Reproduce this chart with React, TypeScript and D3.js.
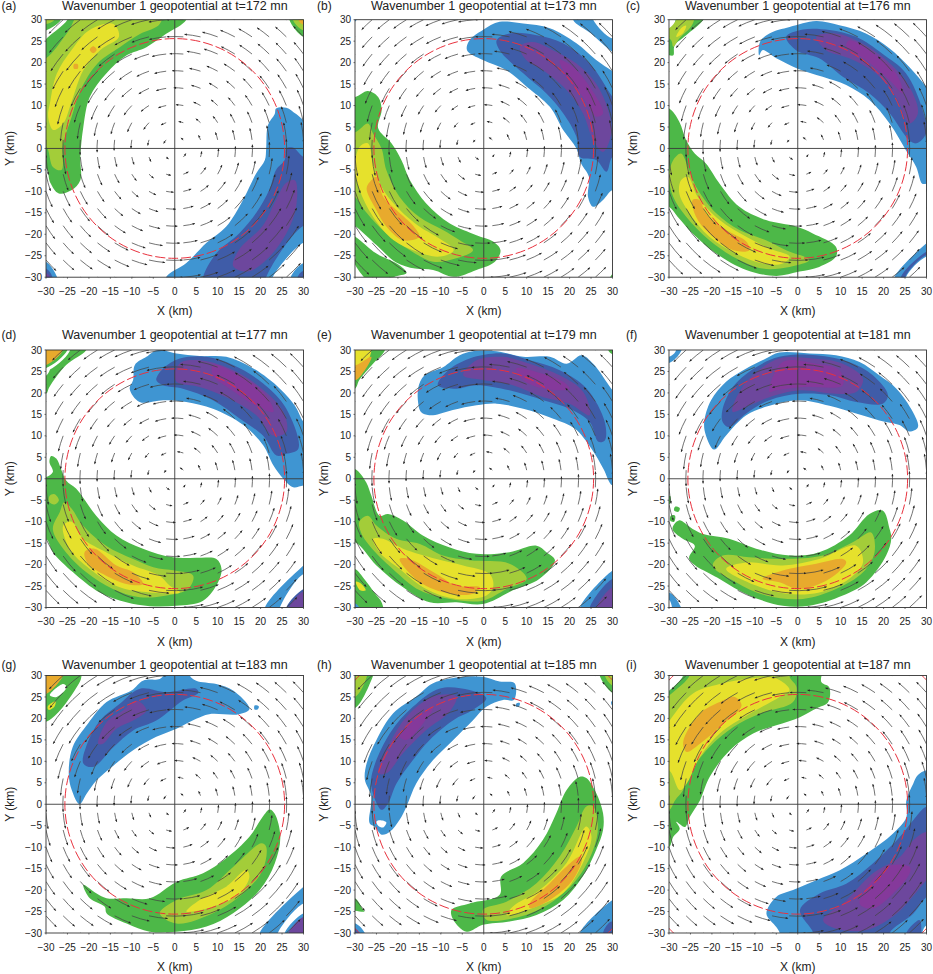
import * as d3 from "d3";

type Pt = [number, number];
type Contour = [number, Pt[]];

// geopotential shading levels: 0 is a gap, 1-4 low side, 5-8 high side
const LEVEL_COLORS = ["#ffffff", "#3f95d2", "#3f5ca8", "#6d479d", "#85399b", "#4db848", "#a3cd39", "#e6e12c", "#e8aa2d"];

const axisTicks = [-30, -25, -20, -15, -10, -5, 0, 5, 10, 15, 20, 25, 30];
const gridKm = [-30, -26, -22, -18, -14, -10, -6, -2, 2, 6, 10, 14, 18, 22, 26, 30];
const rmwRadius = 25.6;
const outerRadius = 41.7;

// arrow length (km on the plot) by radius
const profileRadius = [0, 3, 6, 8.5, 11, 14, 18, 22, 26, 30, 36, 43];
const profileLength = [0.3, 0.9, 1.2, 1.7, 2.0, 2.4, 2.8, 3.4, 4.1, 4.2, 4.1, 3.8];

const panelLetters = ["a", "b", "c", "d", "e", "f", "g", "h", "i"];
const panelTimes = [172, 173, 176, 177, 179, 181, 183, 185, 187];

// arrow length factor by octant, E NE N NW W SW S SE
const sectorAngles = [0, 45, 90, 135, 180, 225, 270, 315, 360];
const sectorFactors = [
  [1, 0.85, 0.95, 1.2, 1, 0.85, 0.95, 1.2],
  [1.1, 1.15, 0.95, 0.85, 1.05, 1.2, 1, 0.85],
  [1, 1.15, 1.05, 0.85, 1, 1.2, 1.05, 0.85],
  [0.95, 1.15, 1.15, 0.85, 0.95, 1.15, 1.15, 0.85],
  [0.9, 1.05, 1.2, 0.9, 0.9, 1.05, 1.2, 0.9],
  [0.9, 1, 1.2, 1, 0.9, 1, 1.2, 1],
  [0.9, 0.9, 1.15, 1.15, 0.9, 0.9, 1.15, 1.15],
  [1, 0.85, 1, 1.2, 1, 0.85, 1, 1.2],
  [1, 0.85, 0.95, 1.2, 1, 0.85, 0.95, 1.2],
];

const contoursA: Contour[] = [
  [5, [[-30,-4.6],[-29,-8],[-27,-10.5],[-24,-9.7],[-22,-7.4],[-22,-2],[-21.3,5],[-19.8,12],[-16,17.4],[-11.2,21.7],[-6.6,23.6],[-2,26.7],[2.7,30],[3,33],[-24,33],[-25,30],[-30,25.5],[-33,22],[-33,-4.6]]],
  [6, [[-30,0.4],[-28.4,-4.3],[-26.4,-5],[-26,1],[-24,7.4],[-22,13.5],[-18,19.8],[-12.8,23.6],[-8,26.7],[-3.5,29],[-3,33],[-21,33],[-25,27],[-30,21],[-33,20],[-33,0]]],
  [7, [[-20,27.5],[-14.3,29],[-13,26],[-17.4,22.9],[-21.3,18.2],[-24,11],[-26,5.8],[-28.3,4.3],[-29.5,7.4],[-29,11],[-27.5,17.4],[-24,23]]],
  [8, [[-23.5,19.6],[-22.6,19.6],[-22.6,18.6],[-23.5,18.6]]],
  [8, [[-19,23.8],[-18.2,23],[-19,22.2],[-19.8,23]]],
  [5, [[-30,27.5],[-26.5,30],[-26,33],[-33,33],[-33,27]]],
  [6, [[-30,29],[-28,30],[-28,33],[-33,33],[-33,29]]],
  [5, [[26.7,30],[30,26],[33,26],[33,33],[26.7,33]]],
  [6, [[27.5,30],[30,27.5],[33,27.5],[33,33],[27.5,33]]],
  [8, [[28.8,30],[30,28.8],[33,29],[33,33],[29,33]]],
  [1, [[23.6,9.3],[26,9.5],[28.3,8],[30,6.6],[33,5],[33,-22],[30,-22],[22.8,-30],[22,-33],[-2,-33],[-2,-30],[2.7,-26.7],[7.4,-22],[12,-18.2],[15.9,-12],[19,-5.8],[21,-2.7],[21.3,0],[21.7,5.4],[23.3,8]]],
  [2, [[26,0],[27.5,0.2],[30,-2],[33,-3],[33,-18],[30,-18],[21.3,-30],[21,-33],[6.6,-33],[6.6,-30],[9.7,-24.4],[15,-19.8],[19,-15],[22,-9.7],[23.6,-5],[25.6,-2.7]]],
  [3, [[28,-7.4],[26,-8],[23.6,-12],[20.5,-18],[15,-23.6],[13.6,-27.4],[17,-28.7],[21.3,-26],[26,-19.8],[28.3,-13.5]]],
  [1, [[-30,-26.4],[-27.4,-30],[-27,-33],[-33,-33],[-33,-26]]],
  [2, [[-30,-28],[-28.5,-30],[-28.5,-33],[-33,-33],[-33,-28]]],
  [3, [[-30,-29],[-29,-30],[-29,-33],[-33,-33],[-33,-29]]],
  [1, [[27,-30],[30,-26.7],[33,-26.7],[33,-33],[27,-33]]],
  [2, [[28.6,-30],[30,-28.5],[33,-28.5],[33,-33],[28.6,-33]]],
];

const contoursB: Contour[] = [
  [5, [[-30,12],[-27,13.4],[-24.6,12],[-23.8,9],[-24.6,4.7],[-21.5,1.2],[-19.2,-2.7],[-17.2,-7.4],[-13.4,-12.8],[-7.9,-17.5],[-1.7,-20.2],[2.2,-21.7],[3.9,-23.7],[2.6,-26.4],[-1.7,-28.3],[-7,-29.9],[-11.8,-28.3],[-16,-28],[-20.5,-26.5],[-25,-22.5],[-30,-18],[-33,-16],[-33,12]]],
  [5, [[-30,-20.5],[-25,-24.5],[-20,-27],[-18,-29],[-21,-30],[-24,-33],[-30,-27],[-30,-25],[-33,-24],[-33,-19]]],
  [6, [[-29.7,3.9],[-27,5.8],[-25.8,3.5],[-23.8,0],[-22.7,-5],[-19.6,-11.3],[-15,-16],[-9.5,-19],[-5.6,-21.4],[-2.5,-23.7],[-6.4,-25.6],[-11.8,-26.4],[-17.2,-23.7],[-22.7,-19.8],[-27.3,-15],[-30,-11.3],[-33,-10],[-33,3]]],
  [7, [[-28.9,0.4],[-27,1.2],[-25.8,-3.5],[-23.8,-9],[-20.3,-13.6],[-15,-18.2],[-11,-20.6],[-7,-23.7],[-10.2,-25.2],[-15.7,-24],[-21,-21.4],[-25.8,-15.9],[-28.9,-9.7],[-30,-4.3]]],
  [8, [[-26.2,-7.4],[-25,-6.6],[-23.4,-11.3],[-20.3,-14.4],[-16.3,-18.2],[-15,-20.6],[-18.8,-21.4],[-22.7,-18.2],[-25,-14.4],[-27.3,-9.3]]],
  [1, [[-3.9,22.9],[-3.3,25.2],[-0.2,27.6],[3.7,29.5],[9.2,29.1],[15.4,28],[21.6,24.5],[26.2,20.6],[30,18],[33,16],[33,-9.7],[30,-9.7],[27.8,-12],[25.5,-13.6],[24.3,-11.3],[24.5,-6.6],[22.7,-3.5],[21.6,0],[18.5,4.3],[15.4,9.7],[10,14.4],[5.3,18.2],[-0.2,20.6]]],
  [1, [[20.8,30],[25,26.8],[30,22.5],[33,21],[33,26],[30,25.6],[25.5,30],[25,33],[20.8,33]]],
  [2, [[3,25.2],[6,26.8],[12.3,26.4],[18.5,24.5],[24.7,19.8],[30,12],[33,8],[33,-2],[30,-2],[28.6,-5.4],[26.2,-2.7],[22.4,-2],[21.6,2.7],[18.5,8.2],[14.6,12.8],[9.2,17.5],[3.7,22.9]]],
  [3, [[8.4,23.7],[11.5,24.8],[16.1,22.9],[21.6,19.8],[26.2,15.1],[29,8.9],[29.7,3.5],[27.8,-0.8],[25.5,1.9],[23.1,8.2],[19.3,13.6],[13.8,18.2],[9.9,20.6]]],
  [4, [[17.7,20.6],[20.8,19],[24.7,14.4],[27.8,8.2],[26.2,7.4],[23.1,12],[19.3,16.7]]],
  [5, [[29.5,-30],[30,-29.3],[33,-29],[33,-33],[29.5,-33]]],
  [1, [[-30,29.6],[-29.6,30],[-29.6,33],[-33,33],[-33,29.6]]],
];

const contoursC: Contour[] = [
  [1, [[-9,21.7],[-8.8,24.8],[-6.6,26.8],[-1.9,28.3],[4.3,29.7],[9.7,28.7],[15.9,26.8],[21.4,23.3],[26,19],[30,14.4],[33,11],[33,-8.2],[30,-8.2],[29,-8.2],[27.6,-4.3],[25.2,-0.4],[21.4,5.8],[16.7,11.3],[11.3,14.8],[5.8,16.7],[0,18.6],[-5,21],[-8.2,22.9]]],
  [2, [[-2.7,26],[1.2,27.7],[7.4,27.6],[13.6,26],[19.8,22],[25.2,17.5],[29.1,8.9],[29.9,3.5],[27.6,1.2],[26,1.9],[21.4,8.2],[16.7,12.8],[10.5,16.7],[5,21],[-0.4,22.9]]],
  [3, [[4.3,26],[8.9,26.8],[14.4,24.8],[20.6,20.6],[26,14.4],[28,8.2],[26,5.8],[22.9,12],[18.2,17.5],[12,21],[6.6,22.9]]],
  [4, [[12,25.2],[16.7,22.9],[22.9,17.5],[24.5,12.8],[21.4,15.9],[15.9,20.6],[11.3,23.7]]],
  [5, [[-30,9.3],[-27.6,6.2],[-26,1.9],[-24,-1.2],[-21.4,-3.5],[-18.2,-8.2],[-13.6,-13.6],[-7.4,-16.7],[-0.4,-18.2],[3.5,-19.8],[8.9,-22.9],[8.9,-25.2],[5,-27.6],[0.4,-28.7],[-5,-29.7],[-12,-28.3],[-19,-24.5],[-24.5,-19.8],[-28,-15.9],[-30,-13.6],[-33,-13],[-33,9]]],
  [6, [[-29,-2.7],[-27.2,-1.2],[-25.6,-4.3],[-23.7,-8.9],[-19,-15.1],[-13.6,-19],[-7.4,-21.4],[-2.7,-23.7],[2.7,-26],[-1.9,-27.6],[-8.2,-28],[-14.4,-25.6],[-20.6,-21.4],[-26,-15.9],[-29,-11.3],[-30,-6.6]]],
  [7, [[-27.2,-7.4],[-25.6,-6.6],[-23.3,-11.3],[-18.2,-16.7],[-12,-20.6],[-6.6,-23.3],[-1.9,-25.2],[-3.5,-26.8],[-8.2,-26.8],[-14.4,-24.5],[-20.6,-20.6],[-25.2,-15.1],[-27.6,-10.5]]],
  [8, [[-24.5,-12],[-22.9,-12],[-21.4,-15.1],[-16.7,-19],[-12,-21.7],[-11.3,-23.7],[-15,-23.7],[-20.6,-19.8],[-23.7,-15.9]]],
  [5, [[-30,21.7],[-29,21.7],[-28.7,24],[-26,26.4],[-22,30],[-21,33],[-27,33],[-30,26],[-33,26],[-33,21.7]]],
  [6, [[-29.5,25.2],[-29,23.7],[-27.6,25.6],[-24.5,29],[-24,33],[-26,33],[-30,28],[-33,28]]],
  [7, [[-28.3,26],[-26.8,26.8],[-26,28.6],[-27.2,28]]],
  [1, [[22.5,-30],[30,-22.1],[33,-20],[33,-25.2],[30,-25.2],[25.2,-30],[25,-33],[22,-33]]],
  [2, [[24,-30],[30,-24],[33,-23],[33,-24.8],[30,-24.8],[25,-30],[25,-33],[24,-33]]],
];

const contoursD: Contour[] = [
  [1, [[-10.5,21],[-9.7,23],[-9.3,26.5],[-6.6,28.4],[-3.9,30],[0.4,29.2],[5.8,28.6],[12,28.4],[18.3,25.7],[24.5,21],[28,17],[30,13.2],[33,10],[33,-1.6],[30,-1.6],[27.6,-2],[25.3,0],[23,3.1],[20.6,7.8],[16,12.5],[8.9,16.3],[2.7,17.9],[-2.7,18.3],[-8.2,17.9]]],
  [2, [[-4.3,23],[-2.7,25.7],[1.2,28],[7.4,28.4],[13.6,26.5],[20.6,22.2],[26,16.3],[28.8,7],[26,5.8],[23.7,5.4],[20.6,10],[15.2,14],[8.9,18.3],[1.9,21],[-2.7,21.8]]],
  [3, [[0,24.9],[1.6,27.2],[5.8,27.6],[12.8,25.7],[19.8,21.4],[25.3,15.6],[26,10.9],[23,10],[19,14.8],[12,19],[5.8,21.4],[0.4,22.6]]],
  [4, [[8.9,26.5],[13.6,24.9],[20.6,20.2],[23,15.6],[19,17],[12.8,21],[8.9,24]]],
  [1, [[21,-30],[30,-20.2],[33,-18],[33,-22.2],[30,-22.2],[24.5,-30],[24,-33],[21,-33]]],
  [2, [[26,-30],[30,-25.7],[33,-25],[33,-33],[26,-33]]],
  [3, [[26.6,-30],[30,-26.2],[33,-26],[33,-33],[26.6,-33]]],
  [5, [[-30,19.8],[-29.2,21.4],[-25.3,26.5],[-20.6,30],[-20,33],[-26,33],[-30,24],[-33,24],[-33,19.8]]],
  [0, [[-30,25],[-24.5,29.7],[-24.5,33],[-30,33],[-33,33],[-33,25]]],
  [5, [[-30,25.8],[-25,30],[-25,33],[-33,33],[-33,25.8]]],
  [8, [[-30,26.5],[-26,30],[-26,33],[-33,33],[-33,26.5]]],
  [5, [[-28.8,5.3],[-27.6,4.7],[-26.5,2.3],[-25.3,-0.4],[-23,-2.3],[-18.3,-8.6],[-13.6,-13.2],[-7.4,-16.3],[-0.4,-18.3],[5.8,-18.4],[9.7,-18.7],[10.9,-21],[10.1,-24.1],[6.6,-28.4],[0.4,-29.6],[-5.8,-29.7],[-11.3,-28.8],[-17.5,-26.5],[-23.7,-21.8],[-28.4,-17.1],[-30,-14],[-33,-14],[-33,0],[-30,0.4],[-28.4,1.6],[-29.2,3.9]]],
  [6, [[-26.8,-7.8],[-25.7,-5.4],[-24,-7],[-21.4,-10.9],[-16,-15.6],[-9.7,-18.7],[-5,-20.6],[0,-21.4],[4.3,-22.6],[3.1,-25.7],[-1.9,-27.2],[-8.2,-27.6],[-14.4,-25.7],[-20.6,-21.8],[-26,-16.3],[-28.4,-11.7]]],
  [6, [[-29.2,-4],[-28,-3.6],[-27,-5],[-28,-6],[-29.2,-5.5]]],
  [7, [[-26,-10.9],[-24,-10],[-21.4,-14],[-16,-17.1],[-9.7,-20.2],[-3.5,-22.6],[-1.2,-24.9],[1.2,-26.5],[-5.8,-26.5],[-12.8,-25.3],[-19.8,-21],[-24.5,-16.3]]],
  [8, [[-21,-17.1],[-18.7,-16.3],[-13.6,-20.2],[-9.7,-21.8],[-7.4,-24.5],[-11.3,-24.5],[-16.7,-22.2],[-20.2,-19.8]]],
];

const contoursE: Contour[] = [
  [1, [[-14.9,16],[-15.3,21],[-13.8,24.1],[-9.5,26],[-5.6,28.8],[-2.5,29.7],[3,29.7],[9.2,28.4],[15.4,28.4],[19.3,26.8],[22.8,28.8],[25.5,26.8],[30,20.6],[33,17],[33,-1.6],[30,-1.6],[27.9,2.3],[25.1,7],[21.2,11.7],[16.2,14],[9.2,16.3],[3,17.5],[-1.7,17.1],[-7.2,16],[-11.8,14.8],[-14.2,15.2]]],
  [2, [[-10.7,21.8],[-8.7,24.9],[-3.3,28],[4.5,29.2],[10.7,27.6],[17.7,25.3],[24,21],[28.2,13.2],[28.2,8.9],[26.7,8.6],[24.7,13.2],[20,16.3],[13.9,18.3],[6,20.6],[-1.7,21.8],[-6.4,21]]],
  [3, [[-4.8,24.1],[-1.7,27.6],[4.5,28.4],[10.7,26.8],[17.7,24.1],[23.2,20.2],[24.7,14.8],[20,17.5],[13.9,19],[6.8,21.8],[-0.2,23]]],
  [4, [[7.6,25.7],[12.3,24.9],[18.5,22.6],[20,21],[13.9,21],[9.2,23]]],
  [5, [[-30,2.3],[-27.4,-0.8],[-26.2,-3.9],[-24.3,-8.6],[-22.3,-8.2],[-18.8,-9.7],[-14.2,-13.2],[-7.9,-16],[-1.7,-17.5],[6,-17.1],[12.3,-15.6],[14.6,-17.1],[16.6,-19],[13,-23.3],[6.8,-26],[-0.2,-29.2],[-6.4,-28.8],[-12.6,-28.8],[-18.8,-25.3],[-25,-20.2],[-30,-14.8],[-33,-15],[-33,2.3]]],
  [6, [[-29,-10],[-27,-8.6],[-25,-10.9],[-20.4,-14],[-14.9,-15.2],[-9.5,-17.9],[-3.3,-19],[6,-19.8],[10,-23.3],[5.3,-25.7],[-0.2,-28.4],[-7.9,-28],[-14.9,-26],[-21.2,-21],[-26.6,-15.6],[-28.6,-12.5]]],
  [7, [[-25.8,-14],[-23.5,-14],[-18.8,-16.3],[-11,-18.7],[-4.8,-20.2],[1.4,-22.2],[2.2,-25.3],[0.6,-27.2],[-6.4,-28],[-13.4,-25.7],[-19.6,-21],[-24.3,-17.1]]],
  [8, [[-19.6,-18.7],[-17.3,-18.7],[-11,-22.2],[-6.4,-24.9],[-0.9,-25.3],[-2.5,-26.8],[-7.9,-26.8],[-14.9,-24.1]]],
  [5, [[-30,21],[-29,23],[-25.8,26.8],[-23,30],[-23,33],[-33,33],[-33,21]]],
  [7, [[-30,24],[-27.8,25.7],[-26.2,29.7],[-26,33],[-33,33],[-33,24]]],
  [8, [[-30,23],[-28,24.9],[-26.2,28.4],[-29.7,26.5],[-33,26]]],
  [5, [[-30,-21],[-27.8,-23.4],[-25.5,-26.5],[-23.7,-29],[-23.5,-33],[-30,-33],[-33,-30],[-33,-21]]],
  [7, [[-29.8,-24],[-28.5,-24.5],[-27.5,-26],[-28.8,-26]]],
  [1, [[-30,-29],[-29,-30],[-29,-33],[-33,-33],[-33,-29]]],
  [5, [[29,30],[30,29],[33,29],[33,33],[29,33]]],
  [1, [[22.4,-30],[30,-21.4],[33,-20],[33,-33],[22.4,-33]]],
  [2, [[24.7,-30],[30,-23.3],[33,-23],[33,-33],[24.7,-33]]],
  [3, [[26.3,-30],[30,-25.3],[33,-25],[33,-33],[26.3,-33]]],
];

const contoursF: Contour[] = [
  [1, [[-19.5,6.8],[-21.4,10.1],[-21.8,13.2],[-20.2,18.3],[-16.7,22.6],[-12,25.7],[-7.4,28],[-4.3,29.4],[2.7,29.2],[8.9,28.8],[14.4,27.2],[19,24.1],[23,21],[26.8,15.6],[28,12],[26,11],[23.7,12.5],[19,13.6],[13.6,15.2],[7.4,17],[0.4,18.3],[-6.6,17],[-12,14.8],[-16.7,10.1]]],
  [2, [[-17.5,13.2],[-17.5,16.3],[-14.8,21.8],[-9.7,26],[-4.3,28.4],[4.3,28.8],[12,27.2],[17.5,24.1],[21,19.5],[19.8,17.5],[13.6,17.9],[7.4,19.5],[0.4,19.8],[-6.6,18.3],[-12,15.2],[-16,12]]],
  [3, [[-15.2,15.6],[-14,19.5],[-10.5,24.1],[-4.3,28],[3.5,28],[10.5,26.8],[15.2,23.3],[13.6,20.2],[8.9,19.8],[0.4,20.6],[-6.6,19],[-11.3,17.1]]],
  [4, [[-6.6,20.2],[-3.5,27.2],[4.3,26.8],[9.7,25.3],[10.5,21.8],[1.2,21.4],[-5,20.6]]],
  [5, [[19.8,-7.4],[21.4,-11.7],[21.8,-14],[20.6,-17.9],[16,-24.1],[10.5,-27.2],[2.7,-29.6],[-3.5,-29.6],[-11.3,-27.2],[-18.3,-23.3],[-25.3,-18.7],[-24,-15.6],[-26.8,-14],[-29.2,-11.7],[-27.7,-9.7],[-24.5,-11.7],[-22.2,-12.8],[-16,-14],[-9.7,-16.3],[-1.9,-17.9],[5,-17.1],[12,-13.2],[16.7,-8.2]]],
  [6, [[17.1,-12.5],[17.9,-17.1],[15.2,-21.8],[8.9,-25.7],[1.2,-28],[-7.4,-27.2],[-14.4,-24.1],[-19.8,-20.2],[-17.5,-17.9],[-11.3,-18.3],[-3.5,-18.7],[5.8,-17.9],[12.8,-14.8]]],
  [7, [[13.6,-15.6],[15.2,-19.5],[12,-23.3],[5,-26.5],[-2.7,-26.8],[-9.7,-24.9],[-16.7,-21],[-12,-19.5],[-3.5,-20.2],[5,-18.7]]],
  [8, [[10.5,-18.7],[11.3,-19.5],[7.4,-23.3],[0.4,-25.7],[-4.3,-24.1],[-8.2,-23.3],[-3.5,-21.4],[4.3,-19.8]]],
  [1, [[-30,27],[-27.2,29.7],[-26.8,33],[-28,33],[-28.5,29.6],[-30,28.4],[-33,28]]],
  [1, [[-30,-26.5],[-27.2,-30],[-27,-33],[-28.5,-33],[-30,-28.2],[-33,-28]]],
  [5, [[-28.6,-6.5],[-27.5,-6.8],[-27.8,-7.7],[-28.8,-7.4]]],
  [5, [[-29.6,-8.6],[-28.6,-8.6],[-28.8,-10],[-29.7,-9.8]]],
  [5, [[-30,-4],[-29.7,-4],[-29.6,-5.5],[-30,-6],[-33,-5]]],
];

const contoursG: Contour[] = [
  [1, [[-22.2,0],[-24,3.3],[-24.7,7.1],[-23.8,13.3],[-20.2,18.8],[-15.9,23.8],[-10.1,26.5],[-7.4,28.8],[-3.5,29.2],[-2.7,30],[-2.7,33],[3.5,33],[3.5,30],[5,28.8],[9.7,28],[13.6,26.5],[17.4,22.2],[15,21],[8,21],[5,19.9],[0.4,17.6],[-4.3,15.7],[-9.7,12.6],[-14.3,9],[-18.2,5.6],[-20.5,2.5]]],
  [1, [[18.6,23],[19.6,22.8],[19.3,22.1],[18.6,22.1]]],
  [2, [[-21.3,9.5],[-20.4,14.1],[-17.4,19.5],[-12.8,23.4],[-8.1,26.9],[-1.9,26.1],[5,26.9],[5.5,26],[1.9,24.2],[-4.3,19.5],[-9.7,17.2],[-14.3,13.3],[-19,8.7]]],
  [3, [[-17.8,14.1],[-15.9,19.1],[-12,21.9],[-8.9,24.2],[-6.6,21.9],[-9.7,19.5],[-13.6,17.6],[-16.7,14.1]]],
  [5, [[22.1,-1.2],[23.3,-2.2],[24.6,-7.6],[23.3,-13.8],[19.8,-20],[13.6,-25.4],[7.4,-28.5],[0.4,-29.7],[-5.8,-29.7],[-11.2,-27.8],[-15.9,-25.4],[-16.3,-23.9],[-19.8,-21.9],[-21.3,-18.8],[-18.2,-20.8],[-15.9,-21.9],[-11.2,-21.9],[-5.8,-21.9],[0.4,-18.1],[6.6,-16.1],[12,-12.6],[17.4,-7.6],[20.5,-2.9]]],
  [6, [[20.2,-9.1],[21.3,-9.9],[20.5,-15.3],[15.9,-20.8],[8.9,-25.4],[0.4,-27.8],[-3.5,-25.4],[0.4,-22.3],[7.4,-20],[13.6,-14.6]]],
  [7, [[16.7,-15.3],[17.4,-16.9],[15.1,-20.8],[8.9,-23.9],[2.7,-25],[5.8,-22.3],[12,-19.2]]],
  [5, [[-30,19.2],[-26.7,21.9],[-22,28.8],[-21.7,30],[-21,33],[-33,33],[-33,19.2]]],
  [0, [[-29.1,25.4],[-26,28],[-25.2,27.3],[-27.5,25]]],
  [7, [[-29.6,22.8],[-27.8,24],[-28,22.8],[-29.4,22]]],
  [8, [[-30,25.7],[-26,30],[-25.6,33],[-33,33],[-33,25.7]]],
  [1, [[19.8,-30],[30,-19.2],[33,-17],[33,-23.1],[30,-23.1],[24,-30],[23.5,-33],[19.8,-33]]],
  [1, [[25.6,-30],[30,-25.4],[33,-25],[33,-33],[25.6,-33]]],
  [3, [[26.5,-30],[30,-26.2],[33,-26],[33,-33],[26.5,-33]]],
];

const contoursH: Contour[] = [
  [1, [[-23.8,-7.1],[-25.4,-5.2],[-26.6,-4.4],[-26.2,1.8],[-27.7,5.7],[-27.3,9.5],[-25,15],[-21.1,21.2],[-15.7,25.1],[-11.8,28.2],[-4.8,29.7],[-0.2,29.7],[3.7,28.6],[7.2,28.2],[7,24.3],[4.5,24.3],[0.6,22.7],[-2.5,19.6],[-7.1,15],[-11.8,10.3],[-15.7,4.9],[-18,-0.5],[-19.6,-3.6],[-21.9,-6.4]]],
  [0, [[-25,-4],[-24.2,-3.7],[-22.7,-4.2],[-23.4,-5.4],[-24.6,-5]]],
  [1, [[7.6,23.5],[8.4,23.6],[8.2,22.8],[7.5,22.8]]],
  [2, [[-23.8,-1.3],[-26.2,4.1],[-25.8,8],[-21.9,16.5],[-16.5,22.7],[-10.2,27],[-3.3,26.6],[0.6,24.7],[-2.5,22],[-7.1,19.6],[-12.6,15],[-16.5,10.3],[-20.3,4.9],[-22.3,0.2]]],
  [3, [[-24.6,7.2],[-21.9,14.2],[-18,20.4],[-11.8,25.1],[-6.4,25.1],[-7.9,21.6],[-13.4,17.3],[-18.8,11.9],[-22.7,7.2]]],
  [4, [[-19.6,15.8],[-17.2,18.9],[-11.8,22.4],[-14.1,18.9],[-18,15]]],
  [5, [[22.4,6.4],[23.9,6.1],[26.2,2.6],[27.8,-2.1],[27.8,-6],[26.2,-10.6],[23.1,-16.8],[18.5,-22.3],[12.3,-25.8],[6,-27.3],[-0.2,-28.1],[-4,-29.7],[-7.1,-26.9],[-7.5,-24.6],[-3.3,-23.1],[3.7,-21.1],[4.1,-16.8],[9.2,-13.7],[13.8,-8.3],[16.9,-2.1],[19.3,3.3]]],
  [6, [[23.9,-0.5],[25.5,-0.5],[26.6,-5.2],[25.5,-10.6],[21.6,-17.6],[15.4,-23.1],[8.4,-26.2],[0.6,-26.9],[-0.2,-24.6],[5.3,-22.7],[12.3,-18.4],[17.7,-12.2],[21.6,-5.2]]],
  [7, [[23.9,-5.2],[25.1,-7.5],[23.1,-13.7],[18.5,-20.7],[12.3,-23.8],[5.3,-25.8],[6.8,-23.8],[13,-20],[19.3,-13.7]]],
  [8, [[22.4,-12.2],[22.9,-12.6],[20.8,-17.6],[15.4,-22.3],[10.7,-24.2],[10.7,-23.1],[15.4,-18.4],[19.3,-14.5]]],
  [5, [[-30,22.4],[-25.8,29.9],[-25,33],[-33,33],[-33,22.4]]],
  [6, [[-30,25],[-27.5,29],[-27,33],[-33,33],[-33,25]]],
  [5, [[27,30],[30,25.9],[33,25],[33,33],[27,33]]],
  [6, [[28.2,30],[30,27.6],[33,27],[33,33],[28.2,33]]],
  [1, [[29.7,23.9],[30,24],[33,24],[33,22.8],[30,22.9]]],
  [5, [[-30,-21.9],[-28.1,-24.6],[-27.8,-25],[-30,-24.8],[-33,-24],[-33,-22]]],
  [1, [[-30,-27.7],[-27.7,-30],[-27.5,-33],[-33,-33],[-33,-27.7]]],
  [2, [[-30,-29],[-29,-30],[-29,-33],[-33,-33],[-33,-29]]],
  [1, [[22.4,-30],[30,-22.3],[33,-21],[33,-33],[22.4,-33]]],
  [2, [[27.8,-30],[29.7,-27.3],[30.5,-28],[30,-30],[29,-33]]],
];

const contoursI: Contour[] = [
  [5, [[-30,-10],[-29,-7.6],[-27.5,-5.7],[-28.3,-4.1],[-26.3,-5.3],[-25.2,-3],[-22.8,0.9],[-20.5,6.4],[-15.8,12.6],[-10.4,16.5],[-5,18.4],[0.5,20.3],[4.3,22.3],[7.1,23.8],[7.3,27.3],[5.5,28.5],[5.5,33],[-26.7,33],[-26.7,30],[-29.8,26.6],[-33,24],[-33,-10]]],
  [6, [[-28.6,0.9],[-26.7,3.3],[-24.8,7.9],[-20.5,13.4],[-15,18],[-8.9,21.1],[-1.1,23.8],[-0.3,27.3],[-1.9,29.7],[-2,33],[-25.2,33],[-25.2,30],[-29.4,25.8],[-33,23],[-33,-1.4],[-30,-1.4]]],
  [7, [[-27.5,3.3],[-25.9,4.8],[-22.8,11],[-18.2,16.5],[-11.2,21.1],[-4.2,25],[-1.9,26.6],[-5,29.3],[-11.2,29.3],[-18.2,28],[-24.4,25.8],[-29.8,19.6],[-33,15],[-33,7.9],[-30,7.9]]],
  [8, [[-26.7,14.5],[-22.8,21.1],[-18.2,23.8],[-14.7,25],[-13.1,23],[-18.2,18],[-22.8,14.1],[-25.9,12.2]]],
  [1, [[30,7.9],[28,6.8],[26.9,4.8],[25.3,0.9],[25.3,-3],[22.2,-6.8],[16,-11.5],[9.8,-15.4],[4.3,-17.7],[-1.1,-20],[-5,-21.6],[-7.3,-25.5],[-5,-28.6],[-4.2,-30],[-4,-33],[33,-33],[33,8]]],
  [2, [[30,-0.6],[26.9,-3.7],[23.8,-7.6],[17.5,-13.8],[11.3,-18.5],[5.1,-20.8],[0.5,-24.7],[3.6,-30],[3.6,-33],[21.4,-33],[21.4,-30],[26.9,-25.5],[30,-21.6],[33,-20],[33,-1]]],
  [3, [[30,-6.4],[26.9,-8.4],[23.8,-12.3],[17.5,-16.1],[11.3,-22.4],[5.9,-27],[9,-29],[16,-29.3],[23,-25.5],[30,-17.7],[33,-15],[33,-7]]],
  [4, [[26.1,-14.6],[20.7,-14.6],[14.4,-23.1],[17.5,-24.3],[23,-20],[26.1,-16]]],
  [2, [[25.3,-30],[28.4,-27],[28.8,-30],[28.5,-33],[25.3,-33]]],
  [0, [[29,-30],[30,-28.2],[33,-28],[33,-33],[29,-33]]],
];

const panelContours = [contoursA, contoursB, contoursC, contoursD, contoursE, contoursF, contoursG, contoursH, contoursI];
const panelOuterRing = [false, false, false, false, false, false, false, true, true];

const columnLeft = [46, 355, 669];
const rowTop = [19.7, 350, 675.5];
const titleBaseline = [9.8, 339, 669];
const letterLeft = [1.5, 317, 626];
const yLabelOffset = [32.5, 27, 32];
const panelSize = 257.5;
const fontFamily = "'Liberation Sans', Arial, sans-serif";

const formatTick = (v: number) => (v < 0 ? `\u2212${-v}` : `${v}`);

const lengthScale = d3.scaleLinear().domain(profileRadius).range(profileLength).clamp(true);

const Arrows = ({ factors, xScale, yScale }: { factors: number[]; xScale: any; yScale: any }) => {
  const factorScale = d3.scaleLinear().domain(sectorAngles).range([...factors, factors[0]]);
  const arrows: { d: string; head: string }[] = [];
  gridKm.forEach((gy) => {
    gridKm.forEach((gx) => {
      const r = Math.hypot(gx, gy);
      const azimuth = ((Math.atan2(gy, gx) * 180) / Math.PI + 360) % 360;
      const len = lengthScale(r) * factorScale(azimuth);
      // counterclockwise flow, the shaft follows the circle through the tail
      const step = len / r;
      const mx = gx * Math.cos(step / 2) - gy * Math.sin(step / 2);
      const my = gx * Math.sin(step / 2) + gy * Math.cos(step / 2);
      const ex = gx * Math.cos(step) - gy * Math.sin(step);
      const ey = gx * Math.sin(step) + gy * Math.cos(step);
      const x0 = xScale(gx), y0 = yScale(gy), x1 = xScale(ex), y1 = yScale(ey);
      const angle = Math.atan2(y1 - yScale(my), x1 - xScale(mx));
      const size = 2.6;
      const headPts = [
        [x1, y1],
        [x1 - size * Math.cos(angle - 0.42), y1 - size * Math.sin(angle - 0.42)],
        [x1 - size * Math.cos(angle + 0.42), y1 - size * Math.sin(angle + 0.42)],
      ];
      const path = d3.path();
      path.moveTo(x0, y0);
      path.quadraticCurveTo(2 * xScale(mx) - (x0 + x1) / 2, 2 * yScale(my) - (y0 + y1) / 2, x1, y1);
      arrows.push({ d: path.toString(), head: headPts.map((p) => p.join(",")).join(" ") });
    });
  });
  return (
    <g>
      {arrows.map((a, i) => (
        <g key={i}>
          <path d={a.d} fill="none" stroke="#444" strokeWidth={0.75} />
          <polygon points={a.head} fill="#222" />
        </g>
      ))}
    </g>
  );
};

const Panel = ({ index }: { index: number }) => {
  const col = index % 3;
  const row = Math.floor(index / 3);
  const xScale = d3.scaleLinear().domain([-30, 30]).range([0, panelSize]);
  const yScale = d3.scaleLinear().domain([-30, 30]).range([panelSize, 0]);
  const shape = d3
    .line<Pt>()
    .x((d) => xScale(d[0]))
    .y((d) => yScale(d[1]))
    .curve(d3.curveCatmullRomClosed.alpha(0.5));
  const clipId = `clip-${panelLetters[index]}`;
  const rPx = xScale(rmwRadius) - xScale(0);
  const outerPx = xScale(outerRadius) - xScale(0);

  return (
    <g>
      <text x={letterLeft[col]} y={titleBaseline[row]} fontSize={12} fill="#222" fontFamily={fontFamily}>
        ({panelLetters[index]})
      </text>
      <text
        x={columnLeft[col] + panelSize / 2}
        y={titleBaseline[row]}
        fontSize={12.5}
        fill="#222"
        textAnchor="middle"
        fontFamily={fontFamily}
      >
        Wavenumber 1 geopotential at t={panelTimes[index]} mn
      </text>
      <g transform={`translate(${columnLeft[col]},${rowTop[row]})`} fontFamily={fontFamily} fill="#222">
        <defs>
          <clipPath id={clipId}>
            <rect width={panelSize} height={panelSize} />
          </clipPath>
        </defs>
        <g clipPath={`url(#${clipId})`}>
          {panelContours[index].map(([level, pts], i) => (
            <path key={i} d={shape(pts) ?? ""} fill={LEVEL_COLORS[level]} />
          ))}
          <line x1={xScale(0)} x2={xScale(0)} y1={0} y2={panelSize} stroke="#3a3a3a" strokeWidth={0.9} />
          <line x1={0} x2={panelSize} y1={yScale(0)} y2={yScale(0)} stroke="#3a3a3a" strokeWidth={0.9} />
          <Arrows factors={sectorFactors[index]} xScale={xScale} yScale={yScale} />
          <circle cx={xScale(0)} cy={yScale(0)} r={rPx} fill="none" stroke="#e8323e" strokeWidth={1} strokeDasharray="10 3" />
          {panelOuterRing[index] && (
            <circle cx={xScale(0)} cy={yScale(0)} r={outerPx} fill="none" stroke="#e8323e" strokeWidth={0.9} />
          )}
        </g>
        <rect width={panelSize} height={panelSize} fill="none" stroke="#333" strokeWidth={0.9} />
        {axisTicks.map((t) => (
          <g key={t}>
            <line x1={xScale(t)} x2={xScale(t)} y1={panelSize} y2={panelSize + 1.5} stroke="#333" strokeWidth={0.7} />
            <text x={xScale(t)} y={panelSize + 17.5} fontSize={10} textAnchor="middle">
              {formatTick(t)}
            </text>
            <line x1={-1.5} x2={0} y1={yScale(t)} y2={yScale(t)} stroke="#333" strokeWidth={0.7} />
            <text x={-4} y={yScale(t) + 3.6} fontSize={10} textAnchor="end">
              {formatTick(t)}
            </text>
          </g>
        ))}
        <text x={panelSize / 2} y={panelSize + 38} fontSize={12} textAnchor="middle">
          X (km)
        </text>
        <text
          transform={`translate(${-yLabelOffset[col]},${panelSize / 2}) rotate(-90)`}
          fontSize={12}
          textAnchor="middle"
        >
          Y (km)
        </text>
      </g>
    </g>
  );
};

export default function App() {
  return (
    <svg width={933} height={974} style={{ position: "absolute", left: 0, top: 0, background: "#fff" }}>
      {panelTimes.map((_, i) => (
        <Panel key={i} index={i} />
      ))}
    </svg>
  );
}
